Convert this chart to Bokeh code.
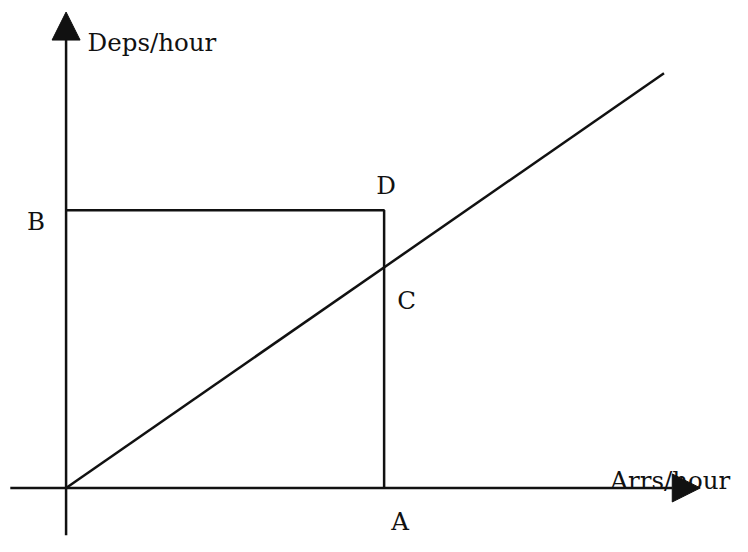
from bokeh.plotting import figure
from bokeh.models import Arrow, NormalHead, ColumnDataSource
from bokeh.core.properties import value
from bokeh.embed import file_html
from bokeh.resources import INLINE

# Conceptual values (arbitrary units)
A_arrs = 5.0          # arrivals/hour at point A
B_deps = 4.4          # departures/hour at point B
C_deps = 3.46         # departures/hour where the line meets A
line_x = [0.0, 9.4]   # diagonal line (deps = arrs * ratio)
line_y = [0.0, 6.57]
x_axis_start, x_axis_end = -0.877, 9.97
y_axis_start, y_axis_end = -0.75, 7.54

labels = ["B", "D", "C", "A"]
label_x = [0.0, A_arrs, A_arrs, A_arrs]
label_y = [B_deps, B_deps, C_deps, 0.0]
label_dx = [-30, 2, 22.5, 16]
label_dy = [11, -25, 31, 34]

W, H = 732, 536

p = figure(width=W, height=H, output_backend="svg", toolbar_location=None,
           x_range=(-1.031, 10.477), y_range=(-0.769, 7.723),
           x_axis_location=None, y_axis_location=None, min_border=0)
p.grid.visible = False
p.outline_line_color = None
p.background_fill_color = "white"
p.border_fill_color = "white"

ink = "#111111"
font = value("DejaVu Serif")
fsize = "24.5px"

# axes with arrow heads
p.add_layout(Arrow(end=NormalHead(size=28, fill_color=ink, line_color=ink),
                   x_start=x_axis_start, y_start=0, x_end=x_axis_end, y_end=0,
                   line_color=ink, line_width=2.5))
p.add_layout(Arrow(end=NormalHead(size=28, fill_color=ink, line_color=ink),
                   x_start=0, y_start=y_axis_start, x_end=0, y_end=y_axis_end,
                   line_color=ink, line_width=2.5))

# rectangle B-D-A
p.line([0, A_arrs, A_arrs], [B_deps, B_deps, 0], line_color=ink, line_width=2.5)
# diagonal
p.line(line_x, line_y, line_color=ink, line_width=2.5)

src = ColumnDataSource(dict(x=label_x, y=label_y, t=labels, dx=label_dx, dy=label_dy))
p.text(x="x", y="y", text="t", x_offset="dx", y_offset="dy", source=src,
       text_font=font, text_font_size=fsize, text_color=ink,
       text_align="center", text_baseline="middle")

p.text(x=[0], y=[y_axis_end], text=["Deps/hour"], x_offset=21.5, y_offset=30,
       text_font=font, text_font_size=fsize, text_color=ink,
       text_align="left", text_baseline="alphabetic")
p.text(x=[x_axis_end], y=[0], text=["Arrs/hour"], x_offset=30, y_offset=-7,
       text_font=font, text_font_size=fsize, text_color=ink,
       text_align="right", text_baseline="alphabetic")

open("out.html", "w").write(file_html(p, INLINE))
